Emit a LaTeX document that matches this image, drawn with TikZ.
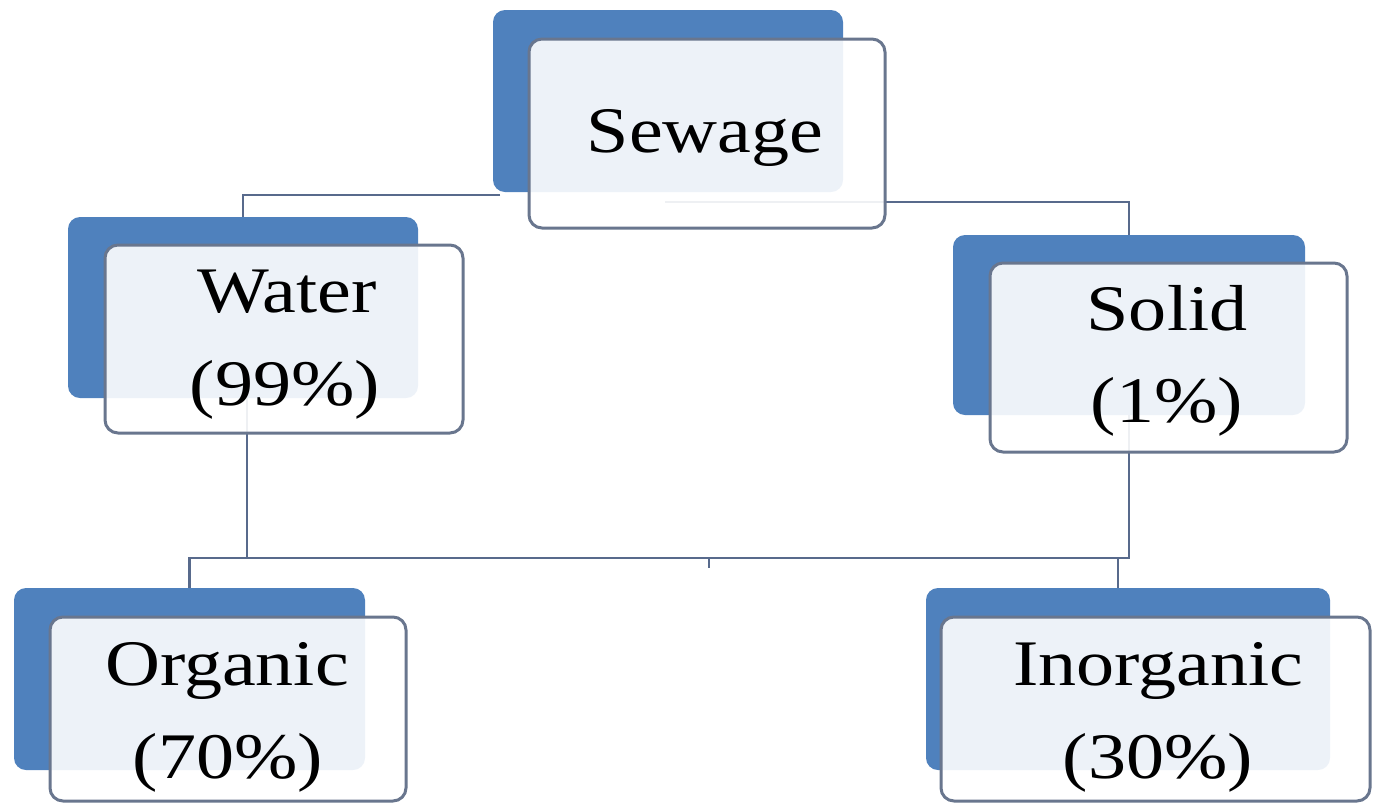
\documentclass[tikz,border=0pt]{standalone}
\usepackage{fontspec}
\setmainfont{Liberation Serif}[FakeStretch=1.17]
\definecolor{backblue}{HTML}{4F81BD}
\definecolor{frame}{RGB}{105,118,142}
\definecolor{linec}{RGB}{88,106,140}
\pgfdeclarelayer{bg}
\pgfsetlayers{bg,main}
\begin{document}
\begin{tikzpicture}[x=1pt,y=-1pt,
  backbox/.style={draw=none, fill=backblue, rounded corners=12pt, inner sep=0pt},
  frontbox/.style={draw=frame, line width=3pt, fill=white, fill opacity=0.9, rounded corners=13pt, inner sep=0pt},
  conn/.style={draw=linec, line width=2.6pt},
  lbl/.style={font=\fontsize{65}{78}\selectfont, anchor=base, inner sep=0pt}]
\useasboundingbox (0,0) rectangle (1374,804);
% Sewage
\node[backbox, minimum width=350pt, minimum height=182pt] (sewB) at (668,101) {};
\node[frontbox, minimum width=356pt, minimum height=189pt] (sewF) at (707,133.5) {};
% Water
\node[backbox, minimum width=350pt, minimum height=181pt] (watB) at (243,307.5) {};
\node[frontbox, minimum width=358pt, minimum height=188pt] (watF) at (284,339) {};
% Solid
\node[backbox, minimum width=352pt, minimum height=180pt] (solB) at (1129,325) {};
\node[frontbox, minimum width=357pt, minimum height=189pt] (solF) at (1168.5,357.5) {};
% Organic
\node[backbox, minimum width=351pt, minimum height=182pt] (orgB) at (189.5,679) {};
\node[frontbox, minimum width=356pt, minimum height=184pt] (orgF) at (228,709) {};
% Inorganic
\node[backbox, minimum width=404pt, minimum height=182pt] (inoB) at (1128,679) {};
\node[frontbox, minimum width=429pt, minimum height=184pt] (inoF) at (1155.5,709) {};
% texts
\node[lbl] (sewT) at (705,152) {Sewage};
\node[lbl] (watT1) at (287,312) {Water};
\node[lbl] (watT2) at (285,405) {(99\%)};
\node[lbl] (solT1) at (1167,330) {Solid};
\node[lbl] (solT2) at (1167,422) {(1\%)};
\node[lbl] (orgT1) at (227,685) {Organic};
\node[lbl] (orgT2) at (228,778) {(70\%)};
\node[lbl] (inoT1) at (1158,685) {Inorganic};
\node[lbl] (inoT2) at (1158,778) {(30\%)};
% connectors
\coordinate (s1) at (500,195);
\coordinate (s2) at (665,202);
\coordinate (jw) at (247,558);
\coordinate (jr) at (1129,558);
\coordinate (tk) at (709,558);
\begin{pgfonlayer}{bg}
\draw[conn] (s1) -| (watB.north);
\draw[conn] (s2) -| (solB.north);
\draw[conn] ([xshift=4pt]watB.south) -- (jw);
\draw[conn] (orgB.north) |- (jr) -- (solB.south);
\draw[conn] ([xshift=-10pt]inoB.north) -- ([xshift=-10pt]inoB.north |- jr);
\draw[conn] (tk) -- ++(0,10);
\end{pgfonlayer}
\end{tikzpicture}
\end{document}
